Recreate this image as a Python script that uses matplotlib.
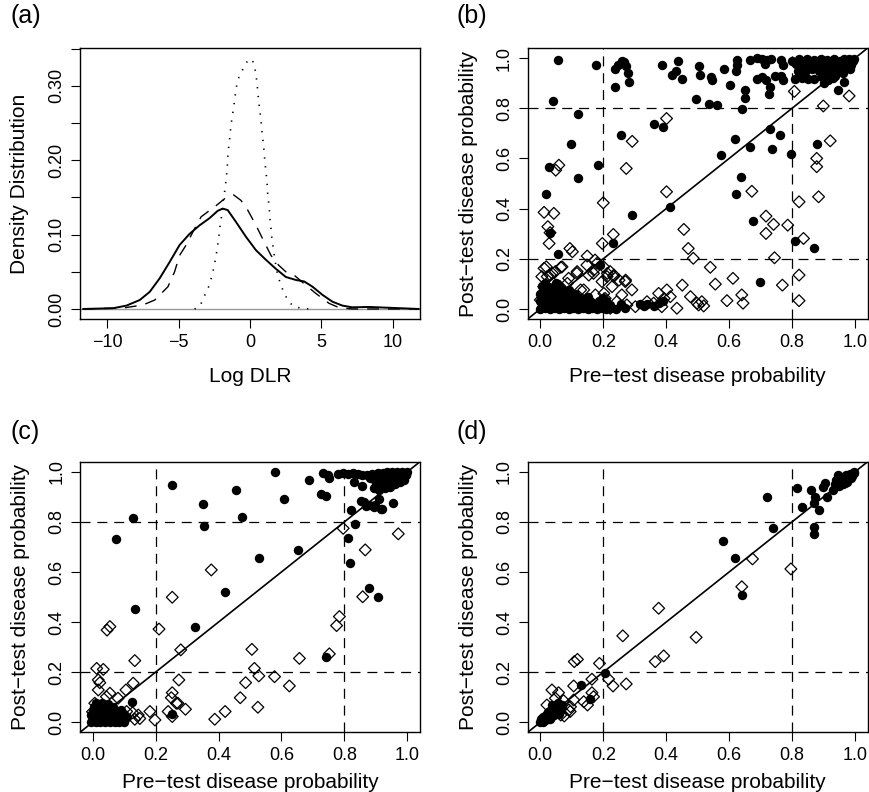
import numpy as np
import matplotlib
matplotlib.use('Agg')
import matplotlib.pyplot as plt

plt.rcParams['font.family'] = ['Liberation Sans', 'DejaVu Sans']

# ---- panel (a): density of log DLR
solid_x = [-11.67, -9.58, -8.65, -7.72, -7.02, -6.33, -5.63, -4.93, -4.23, -3.53, -2.84, -2.26, -1.91, -1.56,
           -0.98, -0.28, 0.42, 1.12, 1.81, 2.51, 3.21, 3.79, 4.37, 5.07, 5.77, 6.47, 7.16, 8.33, 9.49, 11.8]
solid_y = [0, 0.001, 0.0045, 0.012, 0.023, 0.041, 0.063, 0.086, 0.101, 0.1125, 0.122, 0.132, 0.135, 0.133,
           0.117, 0.097, 0.079, 0.066, 0.054, 0.043, 0.039, 0.037, 0.030, 0.019, 0.0098, 0.0045, 0.0022, 0.0027, 0.0018, 0]

dash_x = [-11.67, -9.58, -8.88, -7.49, -6.67, -5.74, -5.28, -4.93, -4.47, -3.88, -3.42, -2.37, -1.67, -1.16,
          -0.63, -0.16, 0.42, 0.88, 1.47, 2.0, 2.51, 3.09, 3.63, 4.6, 5.53, 6.23, 7.16, 11.8]
dash_y = [0, 0.001, 0.0013, 0.0054, 0.012, 0.030, 0.050, 0.072, 0.086, 0.108, 0.124, 0.139, 0.150, 0.1536,
          0.146, 0.133, 0.1125, 0.0946, 0.072, 0.059, 0.050, 0.0455, 0.0366, 0.021, 0.0076, 0.0018, 0, 0]

dot_x = [-3.88, -3.53, -3.26, -3.07, -2.84, -2.65, -2.49, -2.33, -2.19, -2.09, -1.95, -1.86, -1.74, -1.67, -1.60,
         -1.56, -1.51, -1.44, -1.40, -1.33, -1.26, -1.16, -1.07, -0.98, -0.86, -0.70, -0.51, -0.35, -0.16, 0.0,
         0.19, 0.30, 0.40, 0.47, 0.53, 0.58, 0.65, 0.72, 0.77, 0.81, 0.88, 0.95, 1.0, 1.05, 1.12, 1.19, 1.23,
         1.30, 1.35, 1.40, 1.47, 1.53, 1.63, 1.77, 1.93, 2.16, 2.40, 2.70, 3.09, 3.63, 4.14]
dot_y = [0, 0.003, 0.014, 0.023, 0.032, 0.046, 0.059, 0.077, 0.095, 0.1125, 0.130, 0.148, 0.162, 0.175, 0.188,
         0.202, 0.215, 0.224, 0.235, 0.246, 0.258, 0.269, 0.282, 0.296, 0.307, 0.316, 0.322, 0.329, 0.3335, 0.3366,
         0.3335, 0.327, 0.318, 0.307, 0.296, 0.284, 0.273, 0.262, 0.253, 0.244, 0.231, 0.220, 0.208, 0.197, 0.184,
         0.171, 0.157, 0.144, 0.135, 0.121, 0.108, 0.095, 0.081, 0.063, 0.046, 0.032, 0.021, 0.010, 0.003, 0.001, 0]

a_xticks = [-10, -5, 0, 5, 10]
a_xlabels = ['\u221210', '\u22125', '0', '5', '10']
a_yticks = [0, 0.05, 0.10, 0.15, 0.20, 0.25, 0.30, 0.35]
a_ylabels = ['0.00', '', '0.10', '', '0.20', '', '0.30', '']

# ---- panels (b)-(d): (pre-test, post-test) probabilities, filled = diseased, diamond = not diseased
b_filled = [(0.056, 0.991), (0.176, 0.971), (0.258, 0.990), (0.247, 0.973), (0.271, 0.969), (0.236, 0.955),
            (0.279, 0.942), (0.283, 0.905), (0.236, 0.885), (0.266, 0.985), (0.387, 0.973), (0.438, 0.987),
            (0.430, 0.947), (0.419, 0.931), (0.451, 0.918), (0.504, 0.968), (0.507, 0.931), (0.495, 0.838),
            (0.041, 0.828), (0.121, 0.776), (0.361, 0.737), (0.390, 0.725), (0.255, 0.695), (0.096, 0.659),
            (0.183, 0.573), (0.029, 0.565), (0.121, 0.523), (0.543, 0.925), (0.545, 0.911), (0.584, 0.958),
            (0.624, 0.991), (0.624, 0.971), (0.621, 0.947), (0.603, 0.894), (0.651, 0.871), (0.649, 0.841),
            (0.667, 0.991), (0.688, 1.0), (0.704, 0.995), (0.720, 0.991), (0.733, 0.997), (0.714, 0.976),
            (0.765, 0.991), (0.770, 0.971), (0.688, 0.918), (0.704, 0.925), (0.716, 0.911), (0.730, 0.885),
            (0.725, 0.858), (0.746, 0.928), (0.765, 0.928), (0.770, 0.911), (0.966, 0.905), (0.945, 0.871),
            (0.537, 0.818), (0.561, 0.812), (0.640, 0.796), (0.730, 0.716), (0.763, 0.692), (0.617, 0.676),
            (0.667, 0.646), (0.575, 0.615), (0.737, 0.637), (0.797, 0.617), (0.878, 0.659), (0.638, 0.526),
            (0.019, 0.458), (0.290, 0.373), (0.411, 0.407), (0.232, 0.261), (0.056, 0.219), (0.190, 0.174),
            (0.031, 0.301), (0.621, 0.458), (0.675, 0.351), (0.810, 0.271), (0.868, 0.241), (0.698, 0.109),
            # top right crowd
            (0.800, 0.990), (0.812, 0.975), (0.822, 0.998), (0.830, 0.985), (0.838, 0.965), (0.848, 0.995),
            (0.855, 0.978), (0.862, 0.958), (0.870, 0.992), (0.878, 0.972), (0.885, 0.950), (0.892, 0.998),
            (0.900, 0.980), (0.905, 0.960), (0.912, 0.992), (0.920, 0.972), (0.925, 0.950), (0.932, 0.995),
            (0.940, 0.978), (0.946, 0.958), (0.952, 0.990), (0.958, 0.970), (0.965, 0.995), (0.970, 0.960),
            (0.975, 0.982), (0.982, 0.998), (0.988, 0.972), (0.992, 0.988), (0.998, 0.998), (0.985, 0.955),
            (0.960, 0.942), (0.935, 0.930), (0.915, 0.935), (0.895, 0.925), (0.810, 0.918), (0.830, 0.920),
            (0.850, 0.918), (0.870, 0.918), (0.900, 0.900), (0.915, 0.912), (0.930, 0.920), (0.960, 0.965),
            (0.840, 0.945), (0.820, 0.950),
            # bottom left crowd
            (0.0, 0.0), (0.015, 0.002), (0.03, 0.0), (0.045, 0.003), (0.06, 0.0), (0.075, 0.002), (0.09, 0.0),
            (0.105, 0.003), (0.12, 0.0), (0.135, 0.002), (0.15, 0.0), (0.165, 0.003), (0.18, 0.0), (0.195, 0.002),
            (0.21, 0.0), (0.225, 0.003), (0.24, 0.001),
            (0.005, 0.015), (0.02, 0.017), (0.035, 0.014), (0.05, 0.016), (0.065, 0.015), (0.08, 0.017),
            (0.095, 0.014), (0.11, 0.016), (0.125, 0.015), (0.14, 0.017), (0.155, 0.014), (0.17, 0.016),
            (0.19, 0.015), (0.205, 0.017), (0.22, 0.014),
            (0.0, 0.030), (0.015, 0.032), (0.03, 0.029), (0.045, 0.031), (0.06, 0.030), (0.075, 0.032),
            (0.09, 0.029), (0.105, 0.031), (0.12, 0.030), (0.14, 0.032), (0.16, 0.029), (0.185, 0.031), (0.21, 0.030),
            (0.005, 0.045), (0.02, 0.047), (0.035, 0.044), (0.05, 0.046), (0.065, 0.045), (0.08, 0.047),
            (0.095, 0.044), (0.11, 0.046), (0.13, 0.045), (0.15, 0.047), (0.20, 0.044),
            (0.0, 0.060), (0.015, 0.062), (0.03, 0.059), (0.045, 0.061), (0.06, 0.060), (0.075, 0.062),
            (0.09, 0.059), (0.11, 0.061),
            (0.01, 0.075), (0.025, 0.077), (0.04, 0.074), (0.055, 0.076), (0.07, 0.075), (0.09, 0.077),
            (0.005, 0.090), (0.02, 0.092), (0.04, 0.089), (0.06, 0.091), (0.015, 0.105), (0.05, 0.104),
            (0.317, 0.020), (0.328, 0.012), (0.340, 0.018), (0.376, 0.023), (0.360, 0.010), (0.390, 0.030),
            (0.270, 0.005), (0.255, 0.020)]

b_open = [(0.401, 0.759), (0.292, 0.668), (0.273, 0.560), (0.059, 0.573), (0.049, 0.553), (0.807, 0.867),
          (0.981, 0.849), (0.899, 0.809), (0.921, 0.670), (0.878, 0.600), (0.878, 0.567), (0.884, 0.447),
          (0.401, 0.467), (0.200, 0.423), (0.012, 0.385), (0.043, 0.381), (0.024, 0.328), (0.031, 0.304),
          (0.028, 0.261), (0.232, 0.297), (0.197, 0.261), (0.456, 0.317), (0.470, 0.241), (0.486, 0.202),
          (0.094, 0.241), (0.102, 0.228), (0.149, 0.211), (0.174, 0.195), (0.672, 0.469), (0.822, 0.427),
          (0.717, 0.370), (0.741, 0.337), (0.717, 0.301), (0.786, 0.334), (0.836, 0.281), (0.744, 0.204),
          (0.540, 0.166), (0.822, 0.135), (0.556, 0.099), (0.612, 0.122), (0.769, 0.095), (0.640, 0.056),
          (0.644, 0.023), (0.593, 0.033), (0.822, 0.033), (0.513, 0.029), (0.519, 0.012), (0.503, 0.016),
          (0.019, 0.168), (0.005, 0.129), (0.032, 0.135), (0.048, 0.149), (0.069, 0.168), (0.011, 0.089),
          (0.042, 0.102), (0.063, 0.089), (0.090, 0.122), (0.116, 0.142), (0.148, 0.175), (0.180, 0.182),
          (0.201, 0.168), (0.212, 0.129), (0.222, 0.149), (0.233, 0.129), (0.270, 0.109), (0.291, 0.076),
          (0.259, 0.056), (0.228, 0.089), (0.196, 0.109), (0.169, 0.142), (0.138, 0.076), (0.175, 0.056),
          (0.206, 0.042), (0.243, 0.029), (0.275, 0.016), (0.302, 0.009), (0.222, 0.003), (0.159, 0.009),
          (0.127, 0.036), (0.095, 0.062), (0.079, 0.029), (0.032, 0.062), (0.000, 0.036), (0.063, 0.009),
          (0.339, 0.029), (0.360, 0.023), (0.376, 0.062), (0.386, 0.009), (0.402, 0.076), (0.413, 0.049),
          (0.434, 0.003), (0.451, 0.095), (0.477, 0.049), (0.498, 0.023), (0.393, 0.042), (0.012, 0.162),
          (0.022, 0.129), (0.038, 0.142), (0.065, 0.166), (0.117, 0.149), (0.154, 0.135), (0.170, 0.155),
          (0.213, 0.142), (0.234, 0.135), (0.250, 0.115), (0.271, 0.115), (0.202, 0.062), (0.128, 0.076),
          (0.086, 0.102), (0.059, 0.076)]

c_filled = [(0.581, 1.0), (0.253, 0.947), (0.454, 0.927), (0.351, 0.870), (0.609, 0.890), (0.475, 0.818),
            (0.354, 0.785), (0.129, 0.814), (0.073, 0.732), (0.689, 0.967), (0.726, 0.911), (0.741, 0.903),
            (0.731, 0.994), (0.747, 0.987), (0.752, 0.974), (0.530, 0.654), (0.654, 0.688), (0.419, 0.519),
            (0.136, 0.454), (0.324, 0.382), (0.741, 0.262), (0.810, 0.737), (0.817, 0.637), (0.834, 0.790),
            (0.821, 0.847), (0.852, 0.885), (0.868, 0.863), (0.895, 0.858), (0.919, 0.850), (0.910, 0.890),
            (0.953, 0.874), (0.877, 0.535), (0.908, 0.499), (0.124, 0.082), (0.253, 0.033), (0.831, 0.960),
            (0.857, 0.944), (0.894, 0.936), (0.862, 0.880), (0.878, 0.867), (0.898, 0.867), (0.916, 0.851),
            (0.778, 0.990), (0.794, 0.993), (0.810, 0.990), (0.826, 0.993), (0.842, 0.990), (0.857, 0.987),
            (0.873, 0.985), (0.889, 0.990), (0.905, 0.993), (0.921, 0.995), (0.936, 0.997), (0.952, 0.998),
            (0.968, 0.998), (0.984, 1.0), (0.998, 0.998),
            (0.880, 0.975), (0.895, 0.970), (0.910, 0.978), (0.925, 0.972), (0.940, 0.980), (0.955, 0.985),
            (0.970, 0.985), (0.985, 0.990), (0.900, 0.955), (0.915, 0.960), (0.930, 0.958), (0.945, 0.965),
            (0.960, 0.970), (0.975, 0.975), (0.990, 0.982), (0.905, 0.940), (0.920, 0.945), (0.935, 0.945),
            (0.950, 0.955), (0.965, 0.960), (0.980, 0.965), (0.995, 0.985), (0.910, 0.928), (0.930, 0.935),
            (0.945, 0.940), (0.960, 0.950), (0.975, 0.958), (0.990, 0.968),
            # bottom left crowd
            (-0.005, 0.0), (0.01, 0.002), (0.025, 0.0), (0.04, 0.002), (0.055, 0.0), (0.07, 0.002), (0.085, 0.0),
            (0.10, 0.002), (0.0, 0.015), (0.015, 0.016), (0.03, 0.014), (0.045, 0.016), (0.06, 0.015),
            (0.075, 0.016), (0.09, 0.014), (-0.005, 0.030), (0.01, 0.031), (0.025, 0.029), (0.04, 0.031),
            (0.055, 0.030), (0.07, 0.031), (0.085, 0.029), (0.0, 0.045), (0.015, 0.046), (0.03, 0.044),
            (0.045, 0.046), (0.06, 0.045), (0.075, 0.046), (0.005, 0.060), (0.02, 0.061), (0.035, 0.059),
            (0.05, 0.061), (0.065, 0.060), (0.01, 0.075), (0.03, 0.076), (0.05, 0.074), (0.09, 0.050),
            (0.10, 0.035), (0.11, 0.020)]

c_open = [(0.796, 0.774), (0.971, 0.752), (0.866, 0.688), (0.377, 0.608), (0.253, 0.499), (0.858, 0.501),
          (0.046, 0.368), (0.055, 0.382), (0.211, 0.372), (0.784, 0.422), (0.775, 0.386), (0.280, 0.289),
          (0.506, 0.291), (0.752, 0.273), (0.657, 0.255), (0.134, 0.246), (0.013, 0.215), (0.034, 0.211),
          (0.018, 0.169), (0.023, 0.158), (0.018, 0.129), (0.129, 0.156), (0.274, 0.169), (0.514, 0.215),
          (0.528, 0.185), (0.578, 0.182), (0.486, 0.158), (0.625, 0.145), (0.469, 0.098), (0.525, 0.060),
          (0.253, 0.118), (0.250, 0.098), (0.271, 0.076), (0.295, 0.052), (0.240, 0.043), (0.253, 0.023),
          (0.182, 0.043), (0.198, 0.009), (0.388, 0.012), (0.421, 0.043), (0.106, 0.129), (0.055, 0.116),
          (0.044, 0.102), (0.145, 0.029), (0.134, 0.012), (0.108, 0.043), (0.087, 0.012), (0.081, 0.096),
          (0.007, 0.076), (0.0, 0.042), (0.150, 0.015), (0.127, 0.038), (0.266, 0.076)]

d_filled = [(0.817, 0.936), (0.720, 0.901), (0.831, 0.858), (0.859, 0.927), (0.873, 0.901), (0.870, 0.877),
            (0.884, 0.847), (0.897, 0.938), (0.905, 0.956), (0.912, 0.901), (0.931, 0.927), (0.739, 0.774),
            (0.868, 0.781), (0.870, 0.752), (0.580, 0.725), (0.619, 0.654), (0.640, 0.508), (0.204, 0.198),
            (0.129, 0.149), (0.157, 0.092),
            (0.945, 0.985), (0.940, 0.965), (0.950, 0.960), (0.955, 0.975), (0.960, 0.950), (0.965, 0.968),
            (0.970, 0.985), (0.975, 0.960), (0.980, 0.975), (0.985, 0.990), (0.990, 0.982), (0.995, 0.995),
            (0.998, 0.998), (0.948, 0.945), (0.958, 0.962), (0.968, 0.955), (0.978, 0.970), (0.988, 0.975),
            (0.935, 0.950),
            (0.000, 0.000), (0.010, 0.000), (0.005, 0.012), (0.015, 0.010), (0.020, 0.020), (0.010, 0.022),
            (0.025, 0.012), (0.030, 0.028), (0.020, 0.032), (0.035, 0.022), (0.040, 0.038), (0.030, 0.042),
            (0.045, 0.030), (0.050, 0.048), (0.040, 0.055), (0.055, 0.040), (0.060, 0.060), (0.050, 0.065),
            (0.065, 0.050), (0.035, 0.048), (0.025, 0.040), (0.045, 0.065), (0.070, 0.070), (0.038, 0.070),
            (0.055, 0.075), (0.015, 0.025), (0.060, 0.035), (0.030, 0.015), (0.008, 0.005), (0.002, 0.015)]

d_open = [(0.674, 0.652), (0.796, 0.612), (0.640, 0.541), (0.376, 0.455), (0.262, 0.345), (0.495, 0.339),
          (0.365, 0.242), (0.392, 0.265), (0.108, 0.242), (0.118, 0.251), (0.188, 0.235), (0.217, 0.172),
          (0.231, 0.145), (0.273, 0.153), (0.164, 0.172), (0.106, 0.145), (0.037, 0.129), (0.058, 0.118),
          (0.048, 0.096), (0.074, 0.086), (0.095, 0.043), (0.106, 0.089), (0.138, 0.082), (0.150, 0.069),
          (0.169, 0.102), (0.164, 0.118), (0.076, 0.025), (0.021, 0.069), (0.032, 0.043), (0.091, 0.049),
          (0.065, 0.029), (0.096, 0.062)]

prob_ticks = [0.0, 0.2, 0.4, 0.6, 0.8, 1.0]
prob_labels = ['0.0', '0.2', '0.4', '0.6', '0.8', '1.0']
cut_points = [0.2, 0.8]

TICK = 13
LAB = 15

fig = plt.figure(figsize=(8.69, 7.92), dpi=100)

# axes boxes measured in pixels of the 869x792 picture
def box(l, t, r, b):
    return [l / 869, 1 - b / 792, (r - l) / 869, (b - t) / 792]

ax_a = fig.add_axes(box(80, 48, 420, 319))
ax_b = fig.add_axes(box(527.7, 48, 867.7, 319))
ax_c = fig.add_axes(box(80, 461.7, 420, 732.3))
ax_d = fig.add_axes(box(527.7, 461.7, 867.7, 732.3))


def r_style(ax):
    for s in ax.spines.values():
        s.set_linewidth(1.0)
    ax.tick_params(direction='out', length=6.5, width=0.8, labelsize=TICK, pad=4)
    plt.setp(ax.get_yticklabels(), rotation=90, va='center')


# panel (a)
ax_a.axhline(0, color='#9a9a9a', lw=1.0)
ax_a.plot(solid_x, solid_y, color='black', lw=1.4)
ax_a.plot(dash_x, dash_y, color='black', lw=1.0, linestyle=(0, (8.5, 6.5)))
ax_a.plot(dot_x, dot_y, color='black', lw=1.2, linestyle=(0, (0.8, 4.5)))
ax_a.set_xlim(-11.9, 11.9)
ax_a.set_ylim(-0.0135, 0.351)
ax_a.set_xticks(a_xticks)
ax_a.set_xticklabels(a_xlabels)
ax_a.set_yticks(a_yticks)
ax_a.set_yticklabels(a_ylabels)
r_style(ax_a)
ax_a.set_xlabel('Log DLR', fontsize=LAB, va='center')
ax_a.xaxis.set_label_coords(0.5, -58 / 271)
ax_a.set_ylabel('Density Distribution', fontsize=LAB, va='center')
ax_a.yaxis.set_label_coords(-60 / 340, 0.5)

# panels (b), (c), (d)
for ax, filled, opened, xl_off in ((ax_b, b_filled, b_open, 58), (ax_c, c_filled, c_open, 50),
                                   (ax_d, d_filled, d_open, 50)):
    for c in cut_points:
        ax.axvline(c, color='black', lw=0.9, linestyle=(0, (8, 5.5)), zorder=1)
        ax.axhline(c, color='black', lw=0.9, linestyle=(0, (8, 5.5)), zorder=1)
    ax.axline((0, 0), (1, 1), color='black', lw=1.2, zorder=2)
    f = np.array(filled)
    o = np.array(opened)
    ax.scatter(o[:, 0], o[:, 1], marker='D', s=36, facecolors='none', edgecolors='black', linewidths=0.9, zorder=3)
    ax.scatter(f[:, 0], f[:, 1], marker='o', s=46, color='black', linewidths=0, zorder=4)
    ax.set_xlim(-0.04, 1.04)
    ax.set_ylim(-0.04, 1.04)
    ax.set_xticks(prob_ticks)
    ax.set_xticklabels(prob_labels)
    ax.set_yticks(prob_ticks)
    ax.set_yticklabels(prob_labels)
    r_style(ax)
    ax.set_xlabel('Pre\u2212test disease probability', fontsize=LAB, va='center')
    ax.xaxis.set_label_coords(0.5, -xl_off / 271)
    ax.set_ylabel('Post\u2212test disease probability', fontsize=LAB, va='center')
    ax.yaxis.set_label_coords(-59 / 340, 0.5)

# panel letters
fig.text(10 / 869, 1 - 4 / 792, '(a)', fontsize=18, va='top', ha='left')
fig.text(457 / 869, 1 - 4 / 792, '(b)', fontsize=18, va='top', ha='left')
fig.text(10 / 869, 1 - 420 / 792, '(c)', fontsize=18, va='top', ha='left')
fig.text(457 / 869, 1 - 420 / 792, '(d)', fontsize=18, va='top', ha='left')

fig.savefig('out.png', dpi=100)
